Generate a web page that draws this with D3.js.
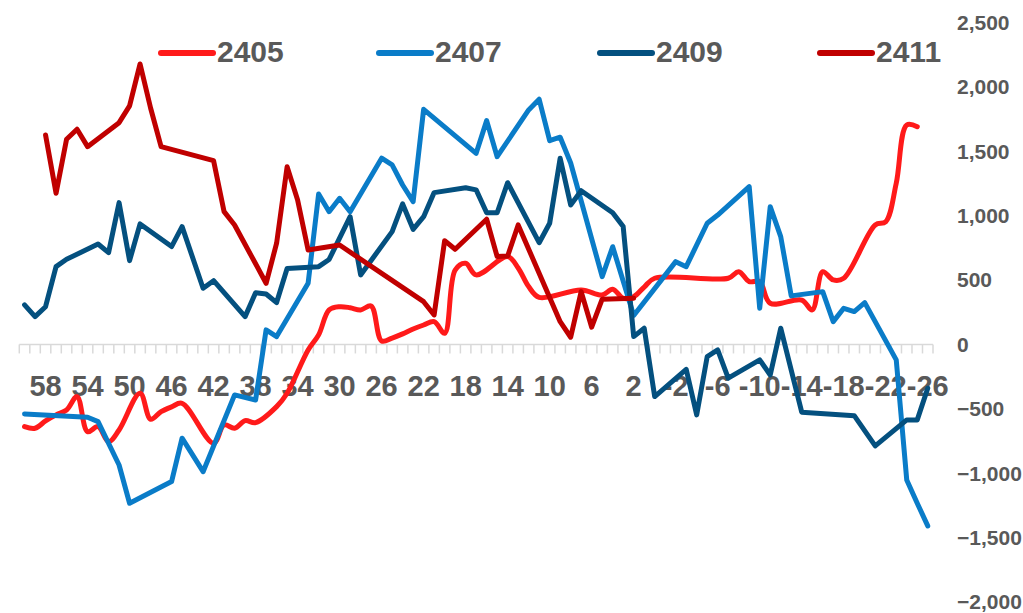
<!DOCTYPE html>
<html lang="en">
	<head>
		<meta charset="utf-8">
		<title>2405 / 2407 / 2409 / 2411</title>
		<style type="text/css">

		body {
			background-color: white;
			margin: 0px;
			padding: 0px;
			font-family: 'Liberation Sans', Arial, sans-serif;
		}

		svg {
			display: block;
		}

		.catLabel {
			fill: #595959;
			font-size: 29px;
			font-weight: bold;
		}

		.valLabel {
			fill: #595959;
			font-size: 21px;
			font-weight: bold;
		}

		.legendText {
			fill: #595959;
			font-size: 30px;
			font-weight: bold;
		}

		</style>
	</head>
	<body>
		<div id="chart"></div>

		<script src="https://d3js.org/d3.v7.min.js"></script>
		<script type="text/javascript">

			// categories run 60 down to -26
			const categories = d3.range(60, -27, -1);

			const catLabels = ["58", "54", "50", "46", "42", "38", "34", "30", "26", "22", "18", "14",
				"10", "6", "2", "-2", "-6", "-10", "-14", "-18", "-22", "-26"];

			const yTicks = [2500, 2000, 1500, 1000, 500, 0, -500, -1000, -1500, -2000];

			const seriesNames = ["2405", "2407", "2409", "2411"];

			// one value per category (60 ... -26), null where the line has no vertex
			const s2405 = [
				-638, -651, -594, -547, -509, -405, -677, -638, -755, -664,   // 60..51
				null, -379, -581, -522, -485, -457, null, null, -767, -625,   // 50..41
				-651, -592, -607, null, -483, -379, null, -43, 74, 268,       // 40..31
				293, 285, 268, 299, 27, 50, 82, 120, 151, 177,                // 30..21
				87, 578, 630, 540, null, null, 682, 594, 449, 366,            // 20..11
				null, null, null, 423, null, 384, 429, 359, 371, 446,         // 10..1
				514, null, null, null, null, null, null, 514, 565, 488,       // 0..-9
				488, 320, null, null, 345, 268, 565, 501, 514, null,          // -10..-19
				null, 928, 953, 1252, 1704, 1691, null                        // -20..-26
			];

			const s2407 = [
				-540, null, null, null, null, null, -565, -599, null, -936,
				-1233, null, null, null, -1065, -728, null, -988, null, null,
				-392, null, -431, 113, 61, null, null, 475, 1168, 1031,
				1135, 1031, null, null, 1446, 1394, 1238, 1109, 1826, null,
				null, null, null, 1484, 1738, 1458, null, null, 1821, 1904,
				1582, 1609, 1409, null, null, 526, 759, null, 225, null,
				null, null, 643, 604, null, 941, 1005, null, null, 1225,
				281, 1070, 837, 377, null, null, 410, 177, 281, 255,
				325, null, null, -120, -1052, -1233, -1409
			];

			const s2409 = [
				307, 216, 293, 604, 661, null, null, 780, 713, 1101,
				651, 936, null, null, 760, 915, null, 436, 495, null,
				null, 216, 402, 392, 325, 589, null, null, 604, 660,
				null, 992, 540, null, null, 876, 1091, 894, 992, 1179,
				null, null, 1217, 1200, 1023, 1023, 1256, null, null, 790,
				941, 1446, 1083, 1194, null, null, 1023, 915, 61, 126,
				-405, null, null, -193, -547, -95, -43, -262, null, null,
				-120, -237, 126, null, -526, null, null, null, null, -553,
				null, -788, null, null, -586, -586, -340
			];

			const s2411 = [
				null, null, 1626, 1174, 1593, 1671, 1536, null, null, 1722,
				1852, 2178, 1836, 1536, null, null, null, null, 1427, 1031,
				928, null, null, 475, 786, 1380, 1122, 734, null, null,
				772, null, null, null, null, null, null, null, 332, 229,
				806, 739, null, null, 972, 682, 687, 928, null, null,
				null, 177, 56, 410, 134, 351, null, null, 359, null,
				null, null, null, null, null, null, null, null, null, null,
				null, null, null, null, null, null, null, null, null, null,
				null, null, null, null, null, null, null
			];

			const seriesValues = [s2405, s2407, s2409, s2411];
			const seriesColors = ["#ff1a1a", "#0a7cc8", "#04507f", "#c00000"];
			const smoothed = [true, false, false, false];

			const width = 1023,
				height = 613;

			const svg = d3.select("#chart")
				.append("svg")
				.attr("width", width)
				.attr("height", height);

			const xScale = d3.scaleBand()
				.domain(categories)
				.range([19.3, 933])
				.padding(0);

			const yScale = d3.scaleLinear()
				.domain([-2000, 2500])
				.range([602, 22.5]);

			const half = xScale.bandwidth() / 2;

			// category axis on the zero line, ticks between categories
			const axisG = svg.append("g");

			axisG.append("line")
				.attr("x1", xScale.range()[0])
				.attr("x2", xScale.range()[1])
				.attr("y1", yScale(0))
				.attr("y2", yScale(0))
				.style("stroke", "#d9d9d9")
				.style("stroke-width", "1.5px");

			axisG.selectAll(null)
				.data(categories.map(function(c){ return xScale(c); }).concat([xScale.range()[1]]))
				.enter()
				.append("line")
				.attr("x1", function(d){ return d; })
				.attr("x2", function(d){ return d; })
				.attr("y1", yScale(0))
				.attr("y2", yScale(0) + 9)
				.style("stroke", "#d9d9d9")
				.style("stroke-width", "1.5px");

			axisG.selectAll(null)
				.data(catLabels)
				.enter()
				.append("text")
				.attr("class", "catLabel")
				.attr("x", function(d){ return xScale(+d) + half; })
				.attr("y", 396)
				.attr("text-anchor", "middle")
				.text(function(d){ return d; });

			// value axis labels on the right
			svg.selectAll(null)
				.data(yTicks)
				.enter()
				.append("text")
				.attr("class", "valLabel")
				.attr("x", 957)
				.attr("y", function(d){ return yScale(d); })
				.attr("dy", "0.35em")
				.text(d3.format(","));

			// series
			seriesValues.forEach(function(values, k){
				const points = categories.map(function(c, i){
					return {c: c, v: values[i]};
				}).filter(function(d){
					return d.v !== null;
				});

				const line = d3.line()
					.x(function(d){ return xScale(d.c) + half; })
					.y(function(d){ return yScale(d.v); })
					.curve(smoothed[k] ? d3.curveCatmullRom.alpha(0.5) : d3.curveLinear);

				svg.append("path")
					.datum(points)
					.attr("d", line)
					.style("fill", "none")
					.style("stroke", seriesColors[k])
					.style("stroke-width", "5px")
					.style("stroke-linejoin", "round")
					.style("stroke-linecap", "round");
			});

			// legend
			const legendX = [161, 379, 600, 820];

			const legend = svg.selectAll(null)
				.data(seriesNames)
				.enter()
				.append("g")
				.attr("transform", function(_, i){ return "translate(" + legendX[i] + ",53)"; });

			legend.append("line")
				.attr("x1", 0)
				.attr("x2", 52)
				.style("stroke", function(_, i){ return seriesColors[i]; })
				.style("stroke-width", "6px")
				.style("stroke-linecap", "round");

			legend.append("text")
				.attr("class", "legendText")
				.attr("x", 56)
				.attr("y", 9)
				.text(function(d){ return d; });

		</script>
	</body>
</html>
